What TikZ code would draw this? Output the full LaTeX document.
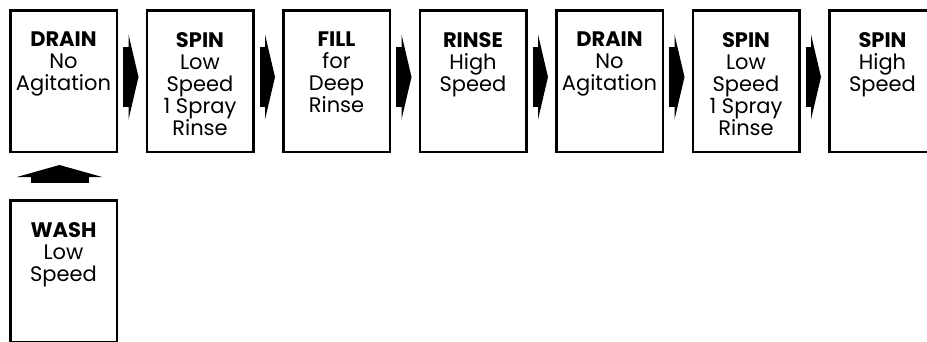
\documentclass[tikz,border=0pt]{standalone}
\usepackage{fontspec}
\setmainfont{Poppins}
\usetikzlibrary{positioning,arrows.meta}
\tikzset{
  stage/.style = {draw, line width=2.5pt, minimum width=106.5pt, minimum height=141.5pt,
    label={[anchor=north, yshift=-23pt, inner sep=0pt, align=center,
      font=\fontsize{21}{22}\selectfont]north:{#1}}},
  flow/.style = {line width=60pt, -{Triangle[width=85pt, length=10pt]}}
}
\begin{document}
\begin{tikzpicture}[node distance = 27.5pt]
    \useasboundingbox (0pt,0pt) rectangle (927pt,-341pt);
    % top row of cycle stages
    \node[stage={\textbf{DRAIN}\\No\\Agitation}] (drain1) at (63.5pt,-81pt) {};
    \node[stage={\textbf{SPIN}\\Low\\Speed\\1 Spray\\Rinse}, right=of drain1] (spin1) {};
    \node[stage={\textbf{FILL}\\for\\Deep\\Rinse}, right=of spin1] (fill) {};
    \node[stage={\textbf{RINSE}\\High\\Speed}, right=of fill] (rinse) {};
    \node[stage={\textbf{DRAIN}\\No\\Agitation}, right=of rinse] (drain2) {};
    \node[stage={\textbf{SPIN}\\Low\\Speed\\1 Spray\\Rinse}, right=of drain2] (spin2) {};
    \node[stage={\textbf{SPIN}\\High\\Speed}, right=of spin2] (spin3) {};
    % wash stage below
    \node[stage={\textbf{WASH}\\Low\\Speed}, below=46pt of drain1] (wash) {};
    % arrows
    \draw[flow] ([shift={(5pt,4pt)}]drain1.east) -- ([shift={(-7pt,4pt)}]spin1.west);
    \draw[flow] ([shift={(5pt,4pt)}]spin1.east) -- ([shift={(-7pt,4pt)}]fill.west);
    \draw[flow] ([shift={(5pt,4pt)}]fill.east) -- ([shift={(-7pt,4pt)}]rinse.west);
    \draw[flow] ([shift={(5pt,4pt)}]rinse.east) -- ([shift={(-7pt,4pt)}]drain2.west);
    \draw[flow] ([shift={(5pt,4pt)}]drain2.east) -- ([shift={(-7pt,4pt)}]spin2.west);
    \draw[flow] ([shift={(5pt,4pt)}]spin2.east) -- ([shift={(-7pt,4pt)}]spin3.west);
    \draw[flow, line width=58pt, -{Triangle[width=85pt, length=12pt]}]
        ([shift={(-4pt,16pt)}]wash.north) -- ([shift={(-4pt,-12pt)}]drain1.south);
\end{tikzpicture}
\end{document}
